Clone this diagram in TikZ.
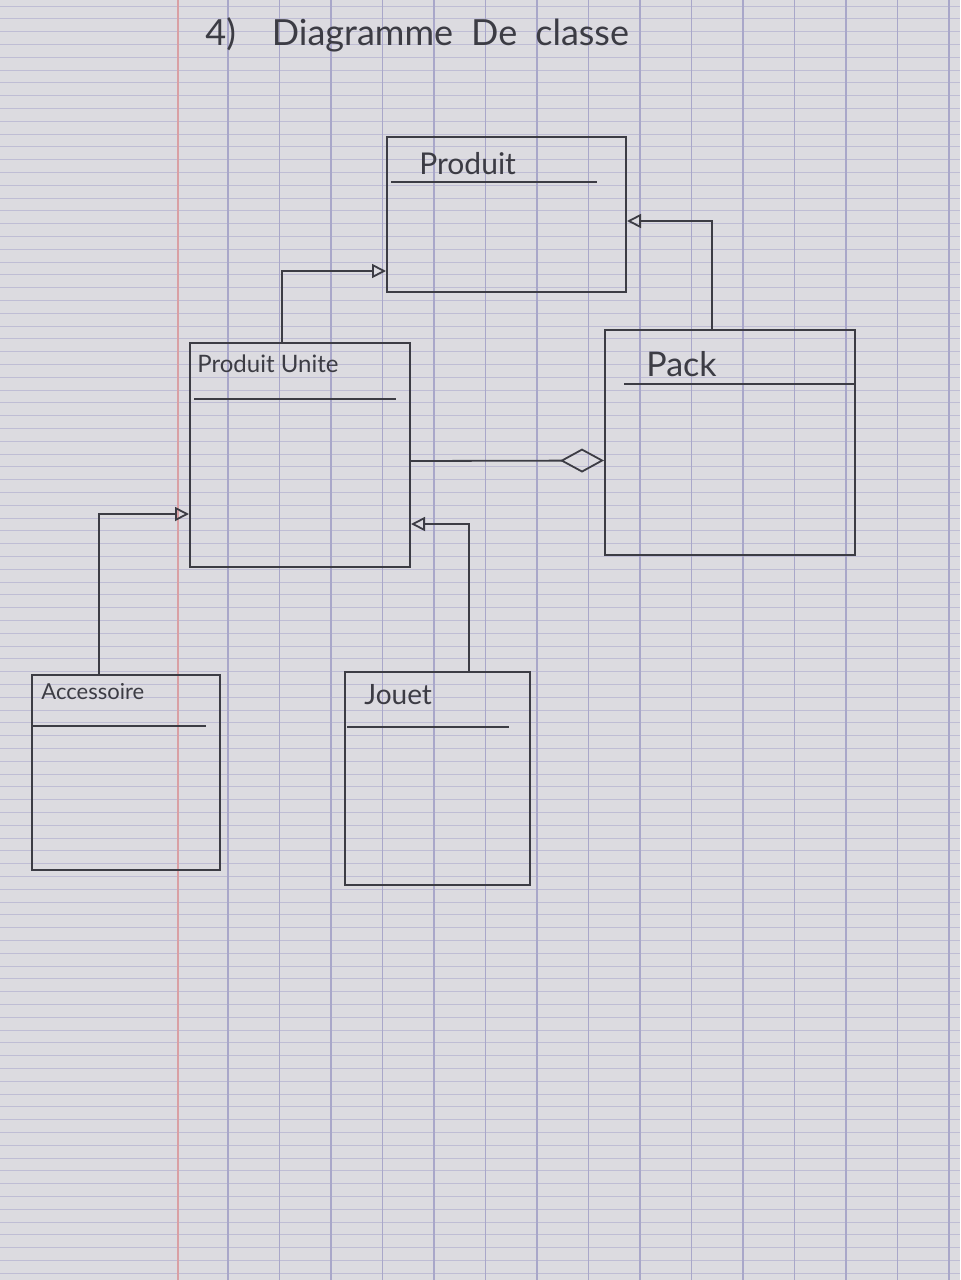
\documentclass[tikz,border=0pt]{standalone}
\usepackage{fontspec}
\setmainfont{Lato}
\usetikzlibrary{arrows.meta,calc}
\definecolor{paper}{HTML}{DCDBE0}
\definecolor{pencil}{HTML}{3C3C44}
\definecolor{gridv}{HTML}{A9A7C9}
\definecolor{gridh}{HTML}{BFBDD4}
\definecolor{marginred}{HTML}{D9A0A4}
\begin{document}
\begin{tikzpicture}[x=0.5pt,y=-0.5pt,
 cls/.style={draw=pencil, line width=1pt, rectangle, inner sep=0pt},
 lbl/.style={text=pencil, anchor=west, inner sep=0pt, font=\fontsize{13}{15}\selectfont},
 sepline/.style={draw=pencil, line width=0.9pt},
 inh/.style={draw=pencil, line width=0.9pt, -{Triangle[open,length=7pt,width=7pt]}},
 agg/.style={draw=pencil, line width=0.9pt, -{Diamond[open,length=22pt,width=12pt]}}]
\fill[paper] (0,0) rectangle (960,1280);
\useasboundingbox (0,0) rectangle (960,1280);
\foreach \i in {0,...,99} \draw[gridh, line width=0.4pt] (0,{6+12.8*\i}) -- (960,{6+12.8*\i});
\foreach \i in {0,...,14} \draw[gridv, line width=0.6pt] ({228+51.5*\i},0) -- ({228+51.5*\i},1280);
\draw[marginred, line width=0.8pt] (178,0) -- (178,1280);

% title
\node[text=pencil, font=\fontsize{18}{20}\selectfont, anchor=west, inner sep=0pt] (title) at (205,35) {4)\quad Diagramme\enspace De\enspace classe};

% classes
\node[cls, minimum width=119.5pt, minimum height=77.5pt] (p) at (506.5,214.5) {};
\node[cls, minimum width=110pt, minimum height=112pt] (pu) at (300,455) {};
\node[cls, minimum width=125pt, minimum height=112.5pt] (pk) at (730,442.5) {};
\node[cls, minimum width=94pt, minimum height=97.5pt] (acc) at (126,772.5) {};
\node[cls, minimum width=92.5pt, minimum height=106.5pt] (jo) at (437.5,778.5) {};

% class names
\node[lbl, font=\fontsize{15}{17}\selectfont] (pt) at ($(p.north west)+(33,28)$) {Produit};
\node[lbl, font=\fontsize{12}{14}\selectfont] (put) at ($(pu.north west)+(8,22)$) {Produit Unite};
\node[lbl, font=\fontsize{17}{19}\selectfont] (pkt) at ($(pk.north west)+(42,35)$) {Pack};
\node[lbl, font=\fontsize{11}{13}\selectfont] (acct) at ($(acc.north west)+(10,18)$) {Accessoire};
\node[lbl, font=\fontsize{14}{16}\selectfont] (jot) at ($(jo.north west)+(20,24)$) {Jouet};

% separators
\draw[sepline] ($(p.north west)+(5,46)$) -- ($(p.north east)+(-30,46)$);
\draw[sepline] ($(pu.north west)+(5,57)$) -- ($(pu.north east)+(-15,57)$);
\draw[sepline] ($(pk.north west)+(20,55)$) -- ($(pk.north east)+(0,55)$);
\draw[sepline] ($(acc.north west)+(0,52)$) -- ($(acc.north east)+(-15,52)$);
\draw[sepline] ($(jo.north west)+(3,56)$) -- ($(jo.north east)+(-22,56)$);

% connectors
\draw[inh] ($(pu.north west)+(93,0)$) |- ($(p.south west)+(0,-22)$);
\draw[inh] ($(pk.north west)+(108,0)$) |- ($(p.north east)+(0,85)$);
\draw[agg] ($(pu.north east)+(0,119)$) -- ($(pk.north west)+(0,131.5)$);
\draw[inh] ($(acc.north west)+(68,0)$) |- ($(pu.north west)+(0,172)$);
\draw[inh] ($(jo.north west)+(125,0)$) |- ($(pu.north east)+(0,182)$);
\end{tikzpicture}
\end{document}
